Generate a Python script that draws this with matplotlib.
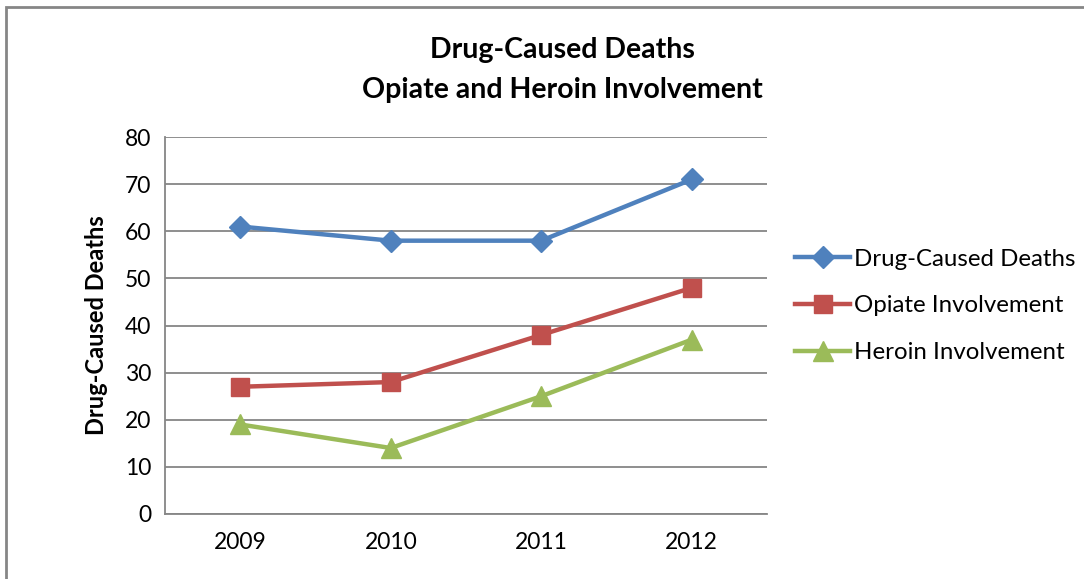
import matplotlib.pyplot as plt
from matplotlib.patches import Rectangle

years = ["2009", "2010", "2011", "2012"]
drug_deaths = [61, 58, 58, 71]
opiate = [27, 28, 38, 48]
heroin = [19, 14, 25, 37]

plt.rcParams['font.family'] = ['Lato', 'DejaVu Sans']

fig = plt.figure(figsize=(10.84, 5.79), dpi=100)
ax = fig.add_axes([165 / 1084, 1 - 514 / 579, 602 / 1084, 377 / 579])

x = range(len(years))
ax.plot(x, drug_deaths, color="#4F81BD", lw=3.2, marker="D", ms=11.5, label="Drug-Caused Deaths")
ax.plot(x, opiate, color="#C0504D", lw=3.2, marker="s", ms=13.5, label="Opiate Involvement")
ax.plot(x, heroin, color="#9BBB59", lw=3.2, marker="^", ms=14, label="Heroin Involvement")

ax.set_xlim(-0.5, 3.5)
ax.set_ylim(0, 80)
ax.set_yticks(range(0, 81, 10))
ax.set_xticks(list(x))
ax.set_xticklabels(years)
ax.tick_params(length=0, labelsize=16.5, colors="black")
ax.tick_params(axis="y", pad=10)
ax.tick_params(axis="x", pad=13)
ax.grid(axis="y", color="#868686", lw=1.3)
ax.set_axisbelow(True)
for s in ["top", "right"]:
    ax.spines[s].set_visible(False)
for s in ["left", "bottom"]:
    ax.spines[s].set_color("#868686")
    ax.spines[s].set_linewidth(1.3)

ax.set_ylabel("Drug-Caused Deaths", fontsize=17, fontweight="bold", labelpad=12)

fig.text(562 / 1084, 1 - 50 / 579, "Drug-Caused Deaths", ha="center", va="center",
         fontsize=20.5, fontweight="bold")
fig.text(562 / 1084, 1 - 90 / 579, "Opiate and Heroin Involvement", ha="center", va="center",
         fontsize=20.5, fontweight="bold")

fig.legend(loc="center left", bbox_to_anchor=(795 / 1084, 1 - 306 / 579), frameon=False,
           fontsize=17.3, handlelength=2.3, handletextpad=0.15, labelspacing=1.08,
           borderpad=0, borderaxespad=0)

fig.patches.append(Rectangle((6 / 1084, -0.1), 1.2, 1 - 7 / 579 + 0.1, transform=fig.transFigure,
                             fill=False, edgecolor="#868686", lw=2))

fig.savefig("out.png", dpi=100)
